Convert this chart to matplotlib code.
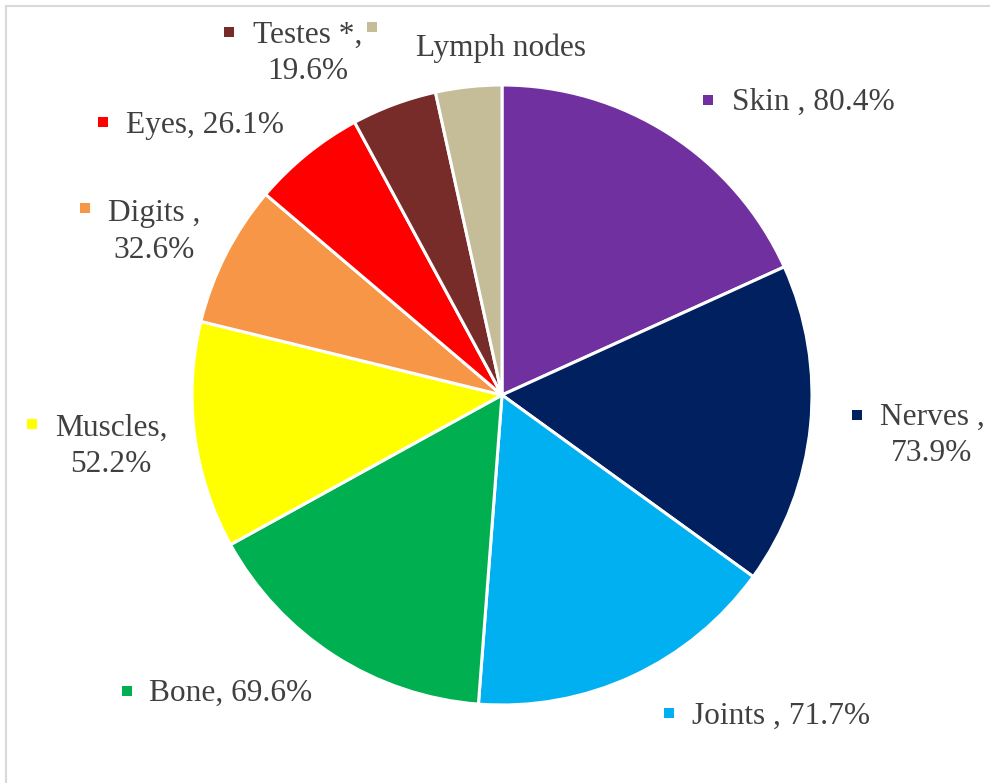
import matplotlib.pyplot as plt
from matplotlib.lines import Line2D

plt.rcParams['font.family'] = ['Liberation Serif', 'DejaVu Serif']

# data (percent of cases)
organs = ['Skin', 'Nerves', 'Joints', 'Bone', 'Muscles', 'Digits', 'Eyes',
          'Testes *', 'Lymph nodes']
percent = [80.4, 73.9, 71.7, 69.6, 52.2, 32.6, 26.1, 19.6, 15.2]
label_texts = ['Skin , 80.4%', 'Nerves ,\n73.9%', 'Joints , 71.7%',
               'Bone, 69.6%', 'Muscles,\n52.2%', 'Digits ,\n32.6%',
               'Eyes, 26.1%', 'Testes *,\n19.6%', 'Lymph nodes']
colors = ['#7030A0', '#002060', '#00B0F0', '#00B050', '#FFFF00',
          '#F79646', '#FF0000', '#772C2A', '#C4BD97']

# layout, in pixels from the top left corner
W, H = 990, 783
center_px = (502, 395)
radius_px = 310
text_pos = [(813, 102), (932, 435), (781, 716), (231, 693), (111, 446),
            (154, 232), (205, 125), (308, 53), (501, 48)]
key_pos = [(708, 100), (857, 415), (669, 713), (127, 691), (32, 424),
           (85, 208), (103, 122), (229, 32), (372, 27)]

fig = plt.figure(figsize=(W / 100, H / 100), dpi=100)
ax = fig.add_axes([0, 0, 1, 1])

ax.pie(percent, colors=colors, startangle=90, counterclock=False,
       center=(center_px[0], H - center_px[1]), radius=radius_px,
       wedgeprops=dict(edgecolor='white', linewidth=2.2), frame=True)
ax.set_xlim(0, W)
ax.set_ylim(0, H)
ax.set_aspect('equal')
ax.axis('off')

for txt, (tx, ty), (kx, ky), c in zip(label_texts, text_pos, key_pos, colors):
    ax.text(tx, H - ty, txt, ha='center', va='center', multialignment='center',
            fontsize=22.6, color='#404040', linespacing=1.33)
    ax.scatter([kx], [H - ky], marker='s', s=62, color=c, linewidths=0, zorder=5)

# chart area border (only top and left edges are visible)
fig.add_artist(Line2D([6 / W, 1], [1 - 6 / H, 1 - 6 / H], color='#D9D9D9', lw=1.5))
fig.add_artist(Line2D([6 / W, 6 / W], [0, 1 - 6 / H], color='#D9D9D9', lw=1.5))

fig.savefig('out.png', dpi=100, facecolor='white')
